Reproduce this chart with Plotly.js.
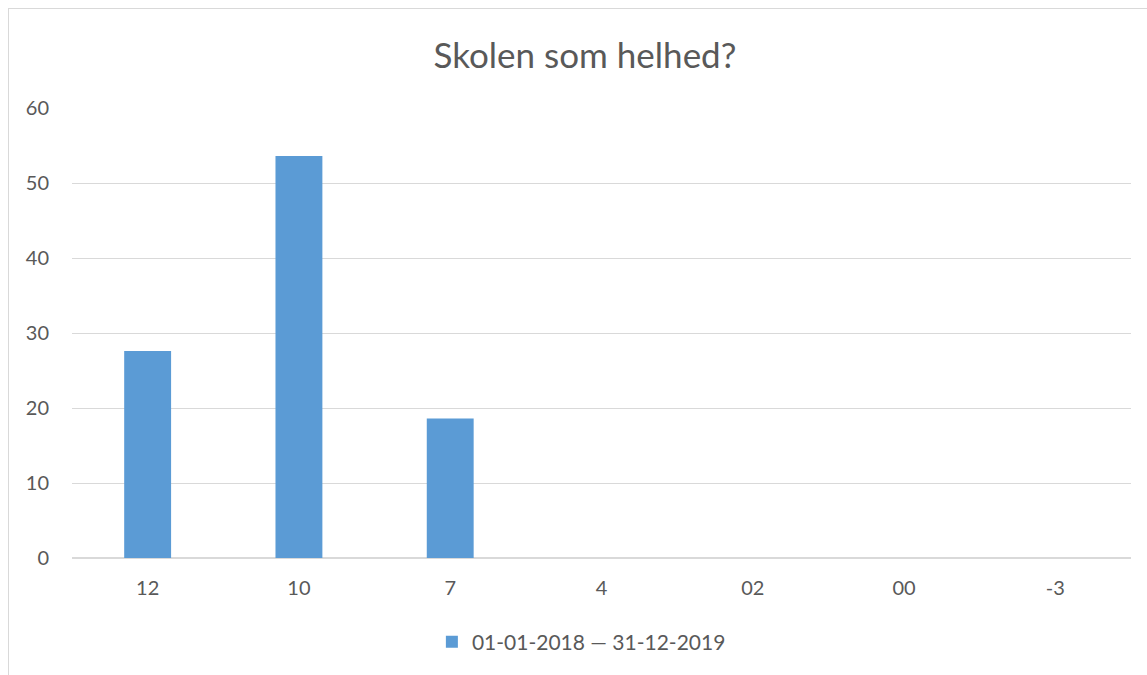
<!DOCTYPE html>
<html>
<head>
<meta charset="utf-8">
<script src="https://cdn.plot.ly/plotly-3.0.1.min.js"></script>
<style>
html,body{margin:0;padding:0;background:#fff;overflow:hidden;}
#frame{position:absolute;left:8px;top:8px;width:1300px;height:800px;border:1.5px solid #d9d9d9;box-sizing:border-box;}
#chart{position:absolute;left:0;top:0;width:1147px;height:675px;}
</style>
</head>
<body>
<div id="frame"></div>
<div id="chart"></div>
<script>
const categories = ["12", "10", "7", "4", "02", "00", "-3"];
const values = [27.6, 53.6, 18.6, 0, 0, 0, 0];
const seriesName = "01-01-2018 — 31-12-2019";
const yTicks = [0, 10, 20, 30, 40, 50, 60];

const font = "Lato, 'Open Sans', sans-serif";
const trace = {
  type: "bar",
  x: categories,
  y: values,
  name: seriesName,
  marker: {color: "#5b9bd5"},
  showlegend: true,
  hoverinfo: "x+y"
};
const layout = {
  width: 1147, height: 675,
  margin: {l: 72, r: 16, t: 108, b: 117},
  paper_bgcolor: "rgba(0,0,0,0)",
  plot_bgcolor: "rgba(0,0,0,0)",
  font: {family: font, color: "#595959", size: 20},
  title: {text: "Skolen som helhed?", font: {family: font, size: 35, color: "#595959"}, x: 0.51, xanchor: "center", y: 0.918, yanchor: "middle"},
  bargap: 0.69,
  xaxis: {type: "category", tickfont: {size: 20, color: "#595959"}, showgrid: false, zeroline: false, showline: false, ticks: "", ticklabelstandoff: 16, fixedrange: true},
  yaxis: {range: [0, 60], tickvals: yTicks, ticktext: yTicks.map(String), tickfont: {size: 20, color: "#595959"}, gridcolor: "#d9d9d9", gridwidth: 1, zeroline: true, zerolinecolor: "#d9d9d9", zerolinewidth: 1.5, showline: false, ticks: "", ticklabelstandoff: 22, fixedrange: true},
  showlegend: true,
  legend: {orientation: "h", x: 0.481, xanchor: "center", y: -0.187, yanchor: "middle", font: {size: 21, color: "#595959"}, itemwidth: 30}
};
Plotly.newPlot("chart", [trace], layout, {displayModeBar: false, staticPlot: true});
</script>
</body>
</html>
